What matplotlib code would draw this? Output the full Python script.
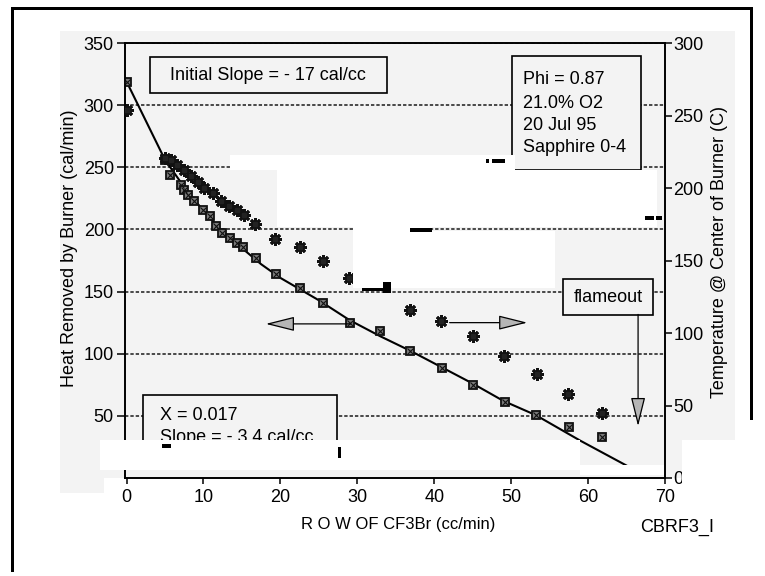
import matplotlib
matplotlib.use("Agg")
import matplotlib.pyplot as plt
from matplotlib.patches import Rectangle

plt.rcParams["font.family"] = ["Liberation Sans", "DejaVu Sans"]

# ---- data -------------------------------------------------------------
# heat removed by burner (left axis, cal/min) vs CF3Br flow (cc/min)
flow_heat = [0, 5.0, 5.6, 7.1, 7.5, 8.0, 8.8, 9.9, 10.8, 11.6, 12.4, 13.4,
             14.3, 15.2, 16.8, 19.4, 22.5, 25.6, 29.1, 32.9, 36.8, 41.0,
             45.0, 49.2, 53.2, 57.5, 61.8]
heat = [319, 256, 244, 236, 232, 228, 223, 216, 211, 203, 197, 193,
        189, 186, 177, 164, 153, 141, 125, 118, 102, 88.5,
        75, 61, 50.6, 40.7, 32.7]

# temperature at centre of burner (right axis, C)
flow_temp = [0, 5.0, 5.8, 6.6, 7.5, 8.4, 9.3, 10.1, 11.2, 12.3, 13.3, 14.4,
             15.3, 16.7, 19.3, 22.5, 25.6, 28.9, 36.9, 40.9, 45.0, 49.1,
             53.3, 57.4, 61.8]
temp = [254, 221, 219, 216, 212.5, 208, 204, 200, 196.5, 191, 187.5, 185,
        181.5, 175, 165, 159.5, 150, 138, 116, 108, 98, 84,
        72, 58, 45]

# fitted heat curve
fit_flow = [0, 5, 7.5, 10, 12.5, 15, 17.5, 20, 22.5, 25, 29, 33, 37, 41,
            45, 49, 53.2, 59, 65.3]
fit_heat = [319, 256, 234, 215, 198, 185, 172, 161, 152, 143, 127, 114,
            102, 89, 76, 62, 50.6, 30, 9]

x_ticks = [0, 10, 20, 30, 40, 50, 60, 70]
left_ticks = [50, 100, 150, 200, 250, 300, 350]
right_ticks = [0, 50, 100, 150, 200, 250, 300]

info_lines = ["Phi = 0.87", "21.0% O2", "20 Jul 95", "Sapphire 0-4"]

# ---- figure -----------------------------------------------------------
W, H = 765, 576
PAPER = "#f3f3f3"
FS = 13

fig = plt.figure(figsize=(W / 100, H / 100), dpi=100)
fig.patch.set_facecolor("white")


def px_rect(x0, y0, x1, y1, **kw):
    """Rectangle given in figure pixel coordinates (origin top-left)."""
    return Rectangle((x0 / W, 1 - y1 / H), (x1 - x0) / W, (y1 - y0) / H,
                     transform=fig.transFigure, **kw)


# scanned paper tone behind the chart
fig.add_artist(px_rect(60, 31, 735, 478, fc=PAPER, ec="none", zorder=-10))
fig.add_artist(px_rect(60, 478, 104, 493, fc=PAPER, ec="none", zorder=-10))

ax = fig.add_axes([125 / W, 1 - 478 / H, 540 / W, 435 / H])
ax.patch.set_visible(False)
ax2 = ax.twinx()
ax2.patch.set_visible(False)

ax.set_xlim(-0.2, 70)
ax.set_ylim(0, 350)
ax2.set_ylim(0, 300)

for a in (ax, ax2):
    for s in a.spines.values():
        s.set_linewidth(1.2)
        s.set_color("black")

ax.set_xticks(x_ticks)
ax.set_yticks(left_ticks)
ax2.set_yticks(right_ticks)
ax.tick_params(axis="x", direction="out", length=4, width=1.1, pad=4,
               labelsize=FS)
ax.tick_params(axis="y", direction="out", length=6, width=1.1, pad=2,
               labelsize=FS)
ax2.tick_params(axis="y", direction="out", length=5, width=1.1, pad=1,
                labelsize=FS)

ax.yaxis.grid(True, linestyle=(0, (2.2, 1.3)), color="#1a1a1a", lw=1.1)

# fitted curve and measured heat
ax.plot(fit_flow, fit_heat, color="black", lw=1.5, zorder=2)
ax.plot(flow_heat, heat, linestyle="none", marker="s", ms=6,
        mfc="#7a7a7a", mec="#111111", mew=1.3, zorder=3)
ax.plot(flow_heat, heat, linestyle="none", marker="x", ms=4.5,
        color="#111111", mew=0.8, zorder=3)

# measured temperature
ax2.plot(flow_temp, temp, linestyle="none", marker=(8, 2, 0), ms=9,
         color="#111111", mew=2.0, zorder=3)
ax2.plot(flow_temp, temp, linestyle="none", marker="s", ms=3.0,
         color="#222222", zorder=3)


def ax_px(x, y):
    """Axes-fraction coordinates from figure pixels."""
    return (x - 125) / 540, (478 - y) / 435


def box(x0, y0, x1, y1):
    (ax0, ay1), (ax1, ay0) = ax_px(x0, y0), ax_px(x1, y1)
    ax.add_patch(Rectangle((ax0, ay0), ax1 - ax0, ay1 - ay0,
                           transform=ax.transAxes, fc=PAPER, ec="black",
                           lw=1.2, zorder=4, clip_on=False))


# annotation boxes
box(150, 57, 387, 93)
ax.text(*ax_px(268, 75), "Initial Slope = - 17 cal/cc", transform=ax.transAxes,
        ha="center", va="center", fontsize=FS, zorder=5)

box(512, 56, 641, 170)
for line, ypx in zip(info_lines, [80, 104, 126, 148]):
    ax.text(*ax_px(523, ypx), line, transform=ax.transAxes, ha="left",
            va="center", fontsize=FS, zorder=5)

box(563, 279, 653, 315)
ax.text(*ax_px(608, 297), "flameout", transform=ax.transAxes, ha="center",
        va="center", fontsize=FS, zorder=5)

box(143, 395, 337, 466)
ax.text(*ax_px(160, 415), "X = 0.017", transform=ax.transAxes, ha="left",
        va="center", fontsize=FS, zorder=5)
ax.text(*ax_px(160, 437), "Slope = - 3.4 cal/cc", transform=ax.transAxes,
        ha="left", va="center", fontsize=FS, zorder=5)

# arrows pointing each series to its axis, and the flameout marker
head = dict(arrowstyle="-|>,head_length=1.8,head_width=0.45",
            mutation_scale=10, fc="#b5b5b5", ec="black", lw=0.9,
            shrinkA=0, shrinkB=0)
ax.annotate("", xy=(18.1, 124), xytext=(29.1, 124), arrowprops=head,
            zorder=5)
ax.annotate("", xy=(52.1, 125), xytext=(42.0, 125), arrowprops=head,
            zorder=5)
ax.annotate("", xy=(66.5, 41.7), xytext=(66.5, 131.6), arrowprops=head,
            zorder=5)

# axis titles
fig.text(70 / W, 1 - 248 / H, "Heat Removed by Burner (cal/min)",
         rotation=90, ha="center", va="center", fontsize=FS)
fig.text(720 / W, 1 - 252 / H, "Temperature @ Center of Burner (C)",
         rotation=90, ha="center", va="center", fontsize=FS)
fig.text(398 / W, 1 - 525 / H, "R O W OF CF3Br (cc/min)", ha="center",
         va="center", fontsize=12)
fig.text(714 / W, 1 - 527 / H, "CBRF3_I", ha="right", va="center",
         fontsize=FS)

# blank paper areas laid over the chart
for r in [(230, 155, 515, 170), (277, 170, 657, 227), (353, 226, 432, 233),
          (353, 231, 555, 288), (100, 440, 580, 470), (580, 465, 664, 475),
          (682, 440, 735, 493)]:
    fig.add_artist(px_rect(*r, fc="white", ec="none", zorder=10))

# toner specks
for r in [(486, 159, 489, 163), (492, 159, 505, 163), (410, 228, 432, 232),
          (645, 216, 654, 220), (656, 216, 662, 220), (362, 288, 383, 291),
          (383, 282, 391, 293), (338, 447, 341, 458), (162, 444, 171, 448)]:
    fig.add_artist(px_rect(*r, fc="black", ec="none", zorder=11))

# page frame
fig.add_artist(px_rect(11, 7, 14, 572, fc="black", ec="none", zorder=11))
fig.add_artist(px_rect(11, 7, 753, 10, fc="black", ec="none", zorder=11))
fig.add_artist(px_rect(750, 7, 753, 420, fc="black", ec="none", zorder=11))

fig.savefig("out.png", dpi=100)
